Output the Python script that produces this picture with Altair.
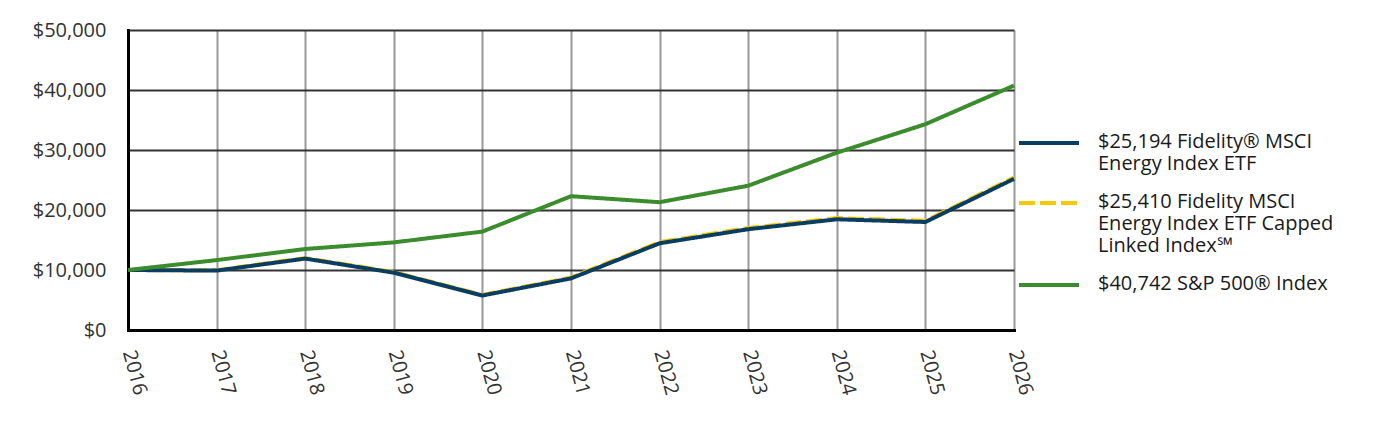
import altair as alt
import pandas as pd

years = [2016, 2017, 2018, 2019, 2020, 2021, 2022, 2023, 2024, 2025, 2026]
fund = [10000, 9900, 11900, 9550, 5750, 8600, 14450, 16800, 18450, 18000, 25194]
index = [10000, 9950, 12000, 9650, 5850, 8750, 14650, 17000, 18650, 18200, 25410]
sp500 = [10000, 11650, 13500, 14600, 16400, 22300, 21300, 24050, 29550, 34300, 40742]

series_names = [
    "$25,194 Fidelity® MSCI|Energy Index ETF",
    "$25,410 Fidelity MSCI|Energy Index ETF Capped|Linked Index℠",
    "$40,742 S&P 500® Index",
]
series_colors = ["#0a3d62", "#f7c900", "#3a8c2c"]
series_dash = [[1, 0], [16, 5], [1, 0]]

rows = []
for name, vals in zip(series_names, [fund, index, sp500]):
    for y, v in zip(years, vals):
        rows.append({"year": y, "value": v, "series": name})
df = pd.DataFrame(rows)

FONT = "Open Sans"
LABEL_DY = -11

base = alt.Chart(df).mark_line(strokeWidth=4, strokeCap="butt", strokeJoin="miter").encode(
    x=alt.X(
        "year:Q",
        scale=alt.Scale(domain=[2016, 2026], nice=False, zero=False),
        axis=alt.Axis(
            values=years,
            format="d",
            title=None,
            labelAngle=75,
            labelAlign="left",
            labelBaseline="middle",
            labelPadding=23,
            labelOffset=-10.6,
            labelFontSize=20,
            labelFont=FONT,
            labelColor="#333333",
            ticks=False,
            grid=True,
            gridColor="#999999",
            gridWidth=2,
            domainColor="#000000",
            domainWidth=3,
        ),
    ),
    y=alt.Y(
        "value:Q",
        scale=alt.Scale(domain=[0, 50000], nice=False),
        axis=alt.Axis(
            values=[0, 10000, 20000, 30000, 40000, 50000],
            format="$,.0f",
            title=None,
            labelFontSize=20,
            labelFont=FONT,
            labelColor="#333333",
            labelPadding=22,
            labelOffset=11,
            ticks=False,
            grid=True,
            gridColor="#333333",
            gridWidth=2,
            domainColor="#000000",
            domainWidth=3,
        ),
    ),
    color=alt.Color(
        "series:N",
        scale=alt.Scale(domain=series_names, range=series_colors),
        legend=alt.Legend(
            title=None,
            orient="none",
            legendX=910,
            legendY=102,
            padding=0,
            symbolType="M-3.333,0L3.333,0",
            symbolSize=324,
            symbolStrokeWidth=4,
            labelFont=FONT,
            labelFontSize=20,
            labelColor="#1a1a1a",
            labelLimit=400,
            labelOffset=38,
            labelBaseline="top",
            rowPadding=18,
            labelExpr="split(datum.label, '|')",
        ),
    ),
    strokeDash=alt.StrokeDash(
        "series:N",
        scale=alt.Scale(domain=series_names, range=series_dash),
        legend=None,
    ),
)

layers = [base.transform_filter(alt.datum.series == n) for n in [series_names[1], series_names[0], series_names[2]]]

chart = alt.layer(*layers).properties(
    width=886,
    height=300,
    autosize=alt.AutoSizeParams(type="none"),
    padding={"left": 120, "top": 22, "right": 370, "bottom": 90},
).configure(
    style={"guide-label": {"dy": LABEL_DY}},
).configure_view(strokeWidth=0).configure_axis(domainCap="square")

chart.save("out.html", embed_options={"renderer": "svg", "actions": False})
